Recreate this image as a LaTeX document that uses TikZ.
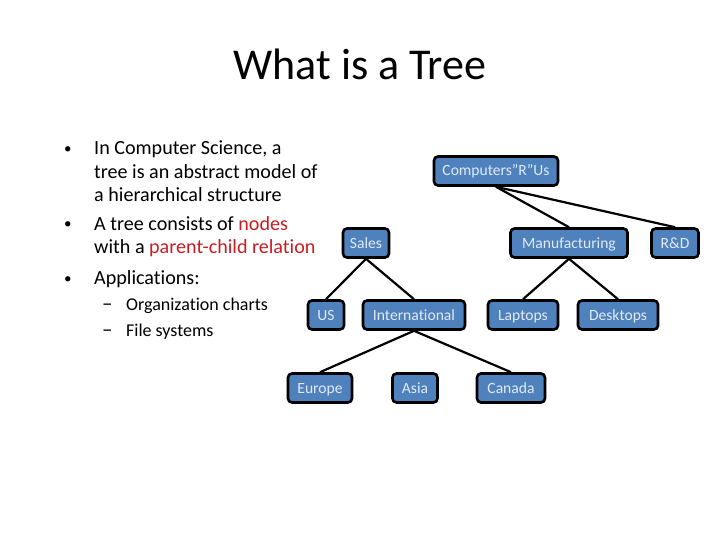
\documentclass[tikz,border=0pt]{standalone}
\usepackage{fontspec}
\setmainfont[Ligatures=NoCommon]{Carlito}
\definecolor{boxblue}{RGB}{79,129,189}
\definecolor{boxtext}{RGB}{225,234,245}
\definecolor{hl}{RGB}{200,30,35}
\begin{document}
\begin{tikzpicture}[x=1pt,y=-1pt,
  orgbox/.style={draw=black,line width=2.6pt,fill=boxblue,rounded corners=4pt,
    text=boxtext,font=\fontsize{15.6}{18}\selectfont,minimum height=29pt,
    text height=10pt,text depth=0pt,inner xsep=1pt,inner ysep=0pt},
  edge/.style={draw=black,line width=2.2pt},
  body/.style={anchor=base west,inner sep=0pt,font=\fontsize{20.1}{23}\selectfont},
  bul/.style={anchor=base west,inner sep=0pt,font=\fontsize{15}{18}\selectfont},
  dsh/.style={anchor=base west,inner sep=0pt,font=\fontsize{21}{24}\selectfont},
  sub/.style={anchor=base west,inner sep=0pt,font=\fontsize{18}{21}\selectfont}]
\useasboundingbox (0,0) rectangle (720,540);
\fill[white] (0,0) rectangle (720,540);
% title
\node[anchor=base,inner sep=0pt,font=\fontsize{44}{52}\selectfont] (title) at (360,80) {What is a Tree};
% bullets
\node[bul] (b1) at (64,154) {•};
\node[body] (t1) at (94,155) {In Computer Science, a};
\node[body] (t2) at (94,179) {tree is an abstract model of};
\node[body] (t3) at (94,202) {a hierarchical structure};
\node[bul] (b2) at (64,229) {•};
\node[body] (t4) at (94,230) {A tree consists of \textcolor{hl}{nodes}};
\node[body] (t5) at (94,254) {with a \textcolor{hl}{parent-child relation}};
\node[bul] (b3) at (64,283) {•};
\node[body] (t6) at (94,284) {Applications:};
\node[dsh] (d1) at (102,310) {–};
\node[sub] (s1) at (126,310) {Organization charts};
\node[dsh] (d2) at (102,336) {–};
\node[sub] (s2) at (126,336) {File systems};
% tree nodes
\node[orgbox,minimum width=124pt] (cru) at (496,171) {Computers”R”Us};
\node[orgbox,minimum width=46pt] (sales) at (366,243) {Sales};
\node[orgbox,minimum width=117pt] (manu) at (569,243) {Manufacturing};
\node[orgbox,minimum width=47pt] (rd) at (675,243) {R\&D};
\node[orgbox,minimum width=36pt] (us) at (326,315) {US};
\node[orgbox,minimum width=102pt] (intl) at (414,315) {International};
\node[orgbox,minimum width=70pt] (lap) at (523,315) {Laptops};
\node[orgbox,minimum width=80pt] (desk) at (618,315) {Desktops};
\node[orgbox,minimum width=64pt] (eur) at (320,388) {Europe};
\node[orgbox,minimum width=45pt] (asia) at (415,388) {Asia};
\node[orgbox,minimum width=68pt] (can) at (511,388) {Canada};
% connectors
\draw[edge] (cru.south) -- (manu.north);
\draw[edge] (cru.south) -- (rd.north);
\draw[edge] (sales.south) -- (us.north);
\draw[edge] (sales.south) -- (intl.north);
\draw[edge] (manu.south) -- (lap.north);
\draw[edge] (manu.south) -- (desk.north);
\draw[edge] (intl.south) -- (eur.north);
\draw[edge] (intl.south) -- (can.north);
\end{tikzpicture}
\end{document}
